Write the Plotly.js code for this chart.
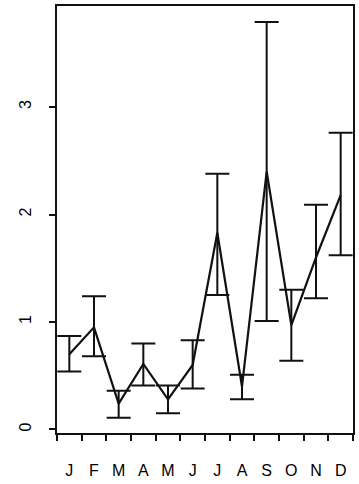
<!DOCTYPE html>
<html>
<head>
<meta charset="utf-8">
<script src="https://cdn.plot.ly/plotly-3.0.1.min.js"></script>
<style>html,body{margin:0;padding:0;background:#fff;}#chart{width:359px;height:484px;}</style>
</head>
<body>
<div id="chart"></div>
<script>
const monthLabels = ['J','F','M','A','M','J','J','A','S','O','N','D'];
const meanValues = [0.70, 0.95, 0.24, 0.61, 0.28, 0.60, 1.83, 0.40, 2.40, 0.97, 1.60, 2.18];
const upperValues = [0.87, 1.24, 0.36, 0.80, 0.41, 0.83, 2.38, 0.51, 3.79, 1.30, 2.09, 2.76];
const lowerValues = [0.54, 0.68, 0.11, 0.41, 0.15, 0.38, 1.25, 0.28, 1.01, 0.64, 1.22, 1.62];
const yTicks = [0, 1, 2, 3];

const xIdx = monthLabels.map((_, i) => i);
const boundaries = monthLabels.concat(['']).map((_, i) => i - 0.5);

const errTrace = {
  x: xIdx, y: meanValues, type: 'scatter', mode: 'markers',
  marker: {size: 0.1, color: 'rgba(0,0,0,0)'},
  error_y: {
    type: 'data', symmetric: false,
    array: upperValues.map((u, i) => u - meanValues[i]),
    arrayminus: meanValues.map((m, i) => m - lowerValues[i]),
    color: '#111', thickness: 2, width: 12
  },
  hoverinfo: 'skip', showlegend: false
};
const lineTrace = {
  x: xIdx, y: meanValues, type: 'scatter', mode: 'lines',
  line: {color: '#111', width: 2.2}, showlegend: false
};

const layout = {
  width: 359, height: 484,
  margin: {l: 57, r: 6, t: 6, b: 51},
  paper_bgcolor: '#fff', plot_bgcolor: '#fff',
  font: {family: 'Liberation Sans, Arial, sans-serif', color: '#000', size: 15},
  showlegend: false,
  xaxis: {
    range: [-0.5, 11.5], showgrid: false, zeroline: false,
    showline: true, linecolor: '#111', linewidth: 2, mirror: true,
    tickmode: 'array', tickvals: xIdx, ticktext: monthLabels, ticks: '',
    ticklabelstandoff: 22,
    tickfont: {size: 16, color: '#000'},
    minor: {tickmode: 'array', tickvals: boundaries, ticks: 'outside', ticklen: 6, tickwidth: 2, tickcolor: '#111', showgrid: false}
  },
  yaxis: {
    range: [-0.033, 3.94], showgrid: false, zeroline: false,
    showline: true, linecolor: '#111', linewidth: 2, mirror: true,
    tickmode: 'array', tickvals: yTicks, ticktext: yTicks.map(String),
    ticks: 'outside', ticklen: 6, tickwidth: 2, tickcolor: '#111',
    tickangle: -90, ticklabelstandoff: 12,
    tickfont: {size: 16, color: '#000'}
  }
};

Plotly.newPlot('chart', [errTrace, lineTrace], layout, {displayModeBar: false, staticPlot: true});
</script>
</body>
</html>
